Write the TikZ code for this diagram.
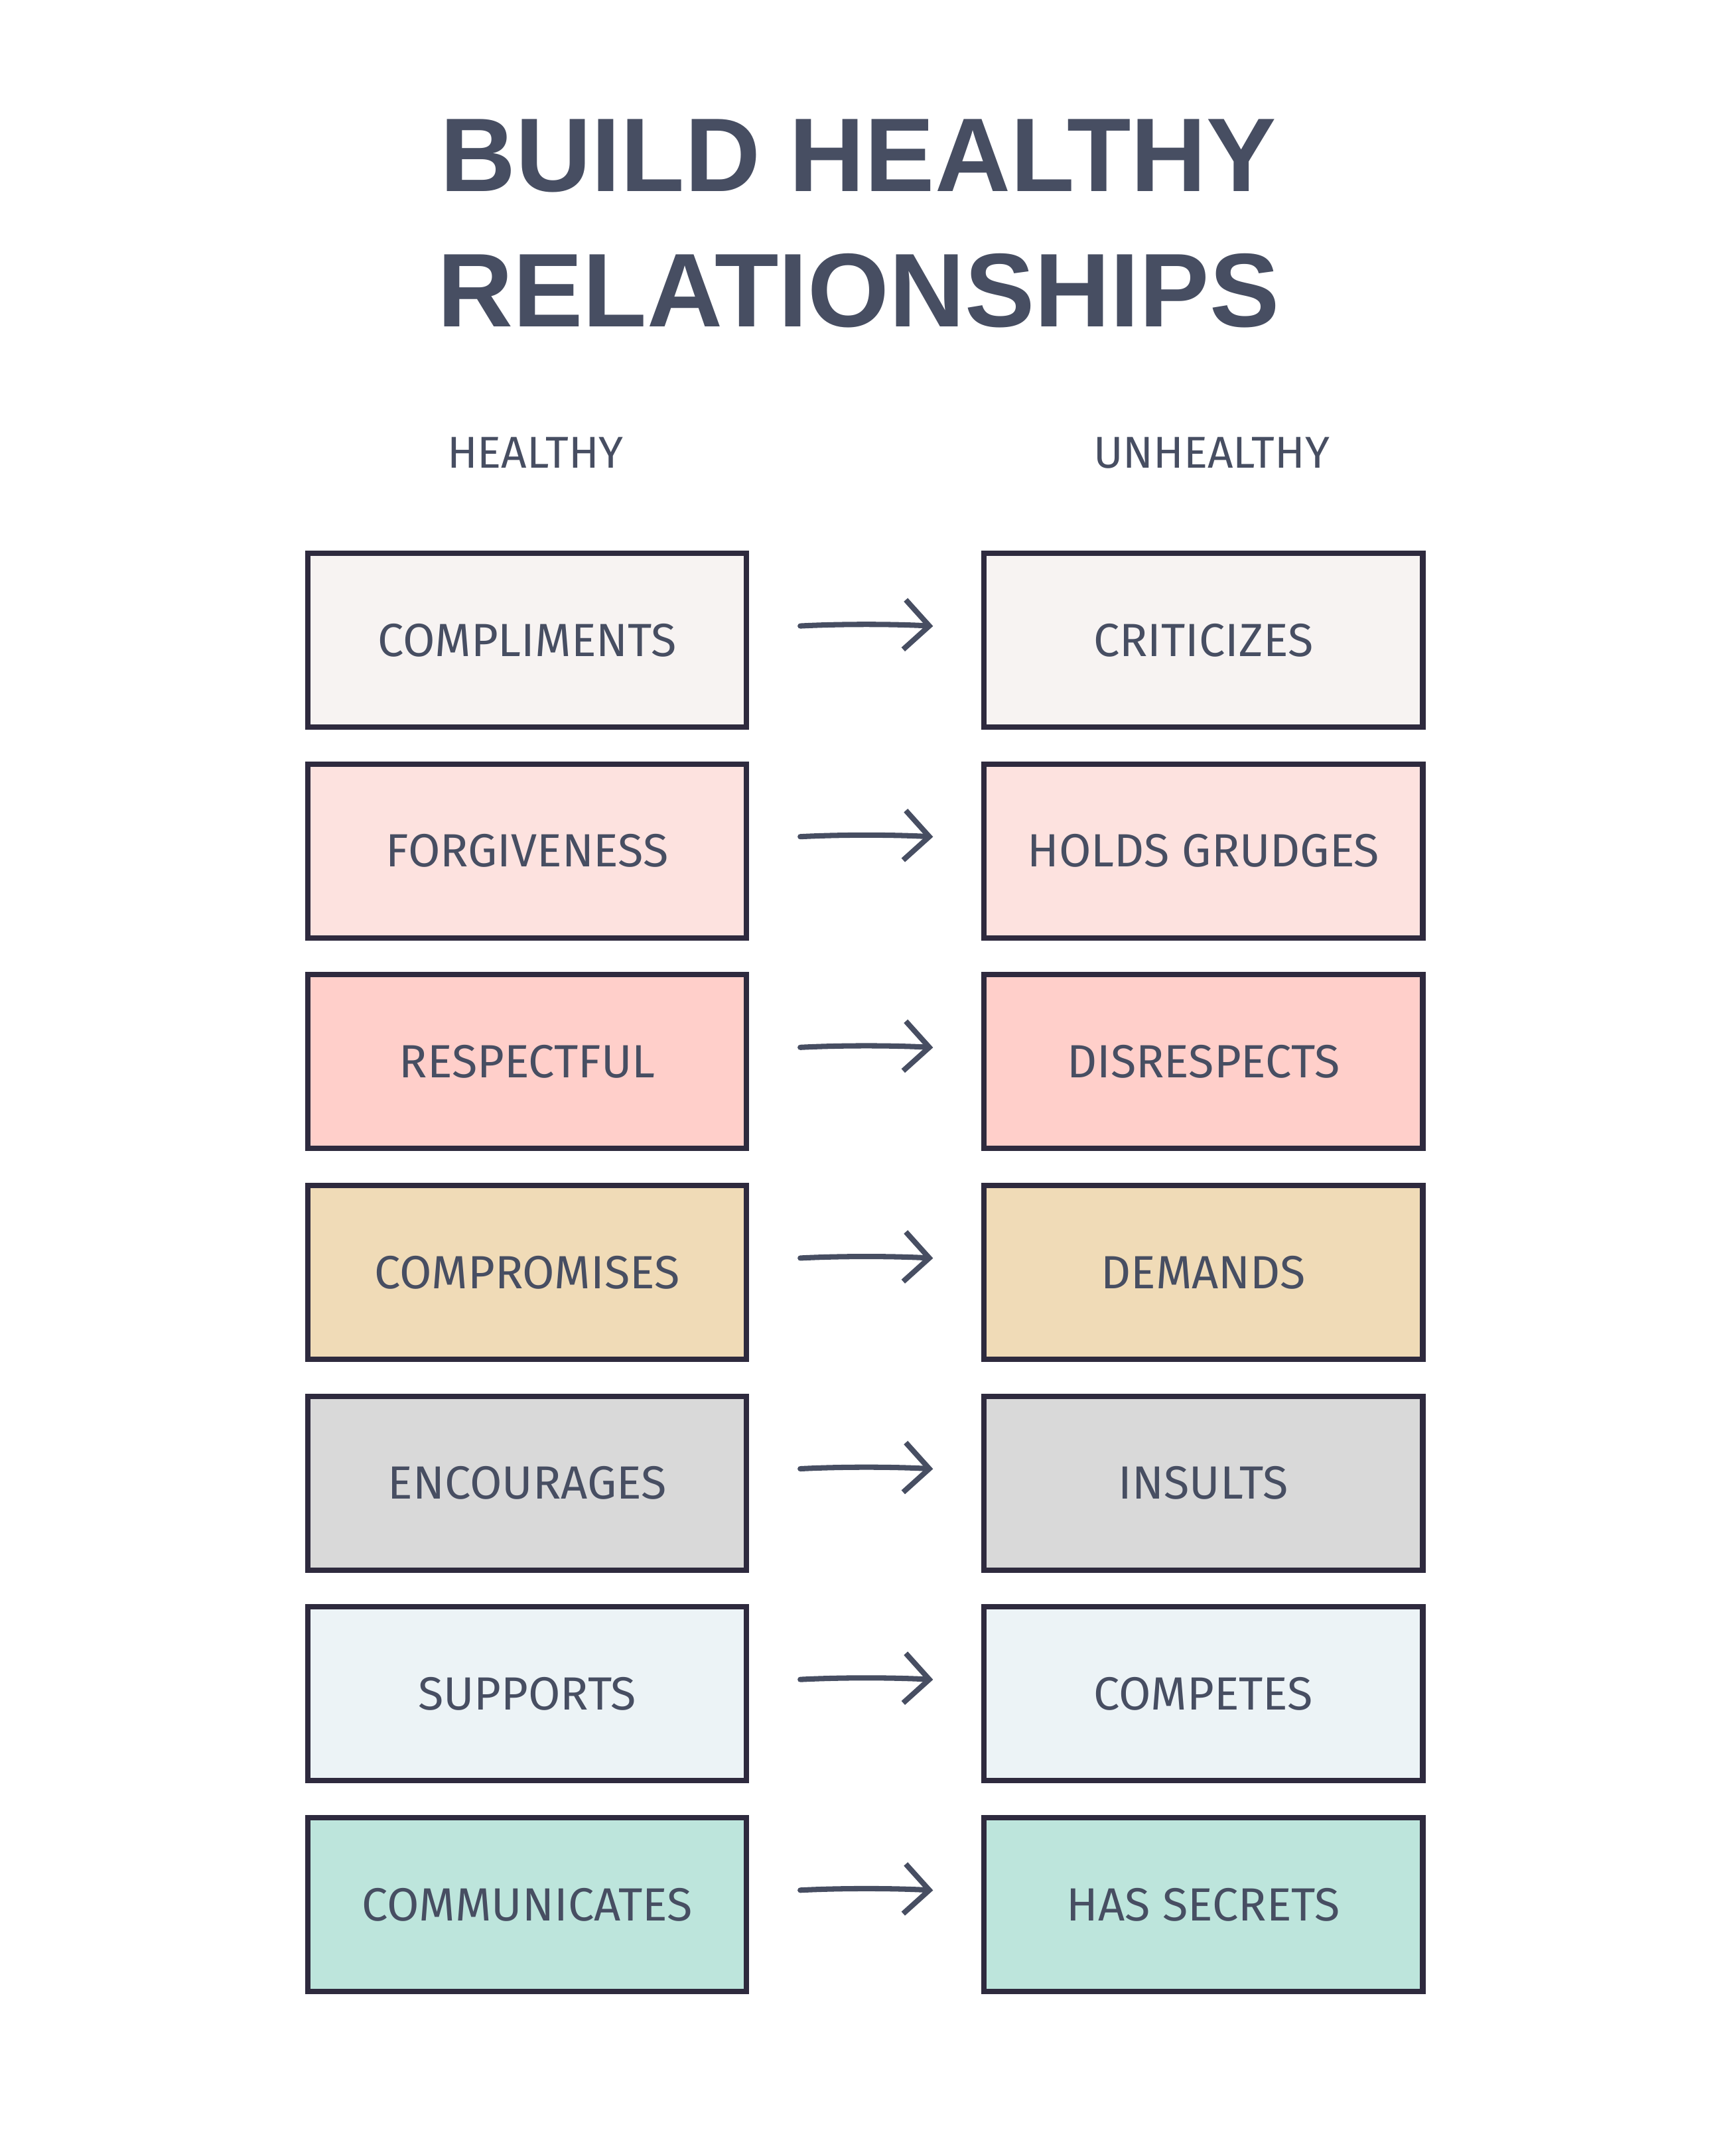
\documentclass[tikz,border=0pt]{standalone}
\usepackage{fontspec}
\setmainfont{Liberation Sans}
\newfontfamily\handfont{Fira Sans}
\usetikzlibrary{positioning,arrows.meta}
\definecolor{ink}{HTML}{474E62}
\definecolor{frame}{HTML}{2E2A3E}
\definecolor{rowA}{HTML}{F7F3F2}
\definecolor{rowB}{HTML}{FDE2DF}
\definecolor{rowC}{HTML}{FFCFCA}
\definecolor{rowD}{HTML}{F0DBB7}
\definecolor{rowE}{HTML}{D9D9D9}
\definecolor{rowF}{HTML}{ECF3F6}
\definecolor{rowG}{HTML}{BDE5DC}
\tikzset{
  card/.style={draw=frame, line width=5.5pt, minimum width=15.9cm, minimum height=6.3cm,
    text=ink, font=\handfont\fontsize{48}{56}\selectfont},
  swap/.style={draw=ink, line width=5.5pt, line cap=round, shorten <=1.85cm, shorten >=1.75cm,
    -{Straight Barb[length=0.9cm, width=1.8cm, line width=5.5pt]}},
}
\begin{document}
\begin{tikzpicture}[x=0.05cm, y=-0.05cm]
    \useasboundingbox (0,0) rectangle (1250,1562.5);

    \node[text=ink, font=\bfseries\fontsize{108}{140}\selectfont, align=center] (title) at (622,162)
        {BUILD HEALTHY\\RELATIONSHIPS};
    \node[text=ink, font=\handfont\fontsize{46}{50}\selectfont] (hhead) at (388,328) {HEALTHY};
    \node[text=ink, font=\handfont\fontsize{46}{50}\selectfont] (uhead) at (878,328) {UNHEALTHY};

    \foreach \i/\fill/\good/\bad in {
        0/rowA/COMPLIMENTS/CRITICIZES,
        1/rowB/FORGIVENESS/HOLDS GRUDGES,
        2/rowC/RESPECTFUL/DISRESPECTS,
        3/rowD/COMPROMISES/DEMANDS,
        4/rowE/ENCOURAGES/INSULTS,
        5/rowF/SUPPORTS/COMPETES,
        6/rowG/COMMUNICATES/HAS SECRETS} {
        \node[card, fill=\fill] (h\i) at (382,464+152.7*\i) {\good};
        \node[card, fill=\fill] (u\i) at (872,464+152.7*\i) {\bad};
        \draw[swap] (h\i) to[bend left=3] (u\i);
    }

\end{tikzpicture}
\end{document}
